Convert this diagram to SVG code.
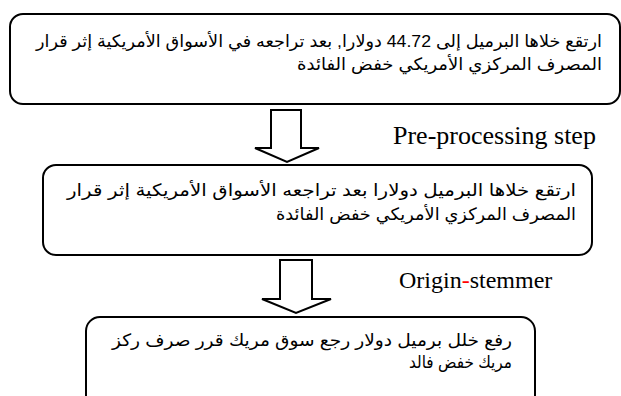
<svg xmlns="http://www.w3.org/2000/svg" width="621" height="396" viewBox="0 0 621 396">
  <style>
    .box { fill: #ffffff; stroke: #000000; stroke-width: 2; }
    .arrow { fill: #ffffff; stroke: #000000; stroke-width: 2; stroke-linejoin: miter; }
    .ar { font-family: "Liberation Sans", "DejaVu Sans", sans-serif; font-size: 17px; fill: #000000; direction: rtl; text-anchor: start; }
    .lbl { font-family: "Liberation Serif", "Times New Roman", serif; fill: #000000; }
  </style>
  <rect x="0" y="0" width="621" height="396" fill="#ffffff"/>

  <g id="node-original">
    <rect class="box" x="10" y="14" width="610" height="90" rx="13" ry="13"/>
    <text class="ar" x="602" y="47" textLength="566" lengthAdjust="spacingAndGlyphs">ارتقع خلاها البرميل إلى 44.72 دولارا, بعد تراجعه في الأسواق الأمريكية إثر قرار</text>
    <text class="ar" x="602" y="70" textLength="305" lengthAdjust="spacingAndGlyphs">المصرف المركزي الأمريكي خفض الفائدة</text>
  </g>

  <g id="node-preprocessed">
    <rect class="box" x="43" y="165" width="549" height="90" rx="13" ry="13"/>
    <text class="ar" x="576" y="196" textLength="509" lengthAdjust="spacingAndGlyphs">ارتقع خلاها البرميل دولارا بعد تراجعه الأسواق الأمريكية إثر قرار</text>
    <text class="ar" x="576" y="220" textLength="300" lengthAdjust="spacingAndGlyphs">المصرف المركزي الأمريكي خفض الفائدة</text>
  </g>

  <g id="node-stemmed">
    <rect class="box" x="86" y="317" width="449" height="100" rx="14" ry="14"/>
    <text class="ar" x="512" y="346" textLength="400" lengthAdjust="spacingAndGlyphs">رفع خلل برميل دولار رجع سوق مريك قرر صرف ركز</text>
    <text class="ar" x="512" y="368" textLength="103" lengthAdjust="spacingAndGlyphs">مريك خفض فالد</text>
  </g>

  <g id="connectors">
    <polygon class="arrow" points="271,110 301,110 301,148 319,148 287,162 255,148 271,148"/>
    <text class="lbl" x="393" y="144" font-size="26">Pre-processing step</text>
    <polygon class="arrow" points="280,260 312,260 312,299 331,299 296,313 262,299 280,299"/>
    <text class="lbl" x="399" y="288" font-size="24">Origin<tspan fill="#ff0000">-</tspan>stemmer</text>
  </g>
</svg>
